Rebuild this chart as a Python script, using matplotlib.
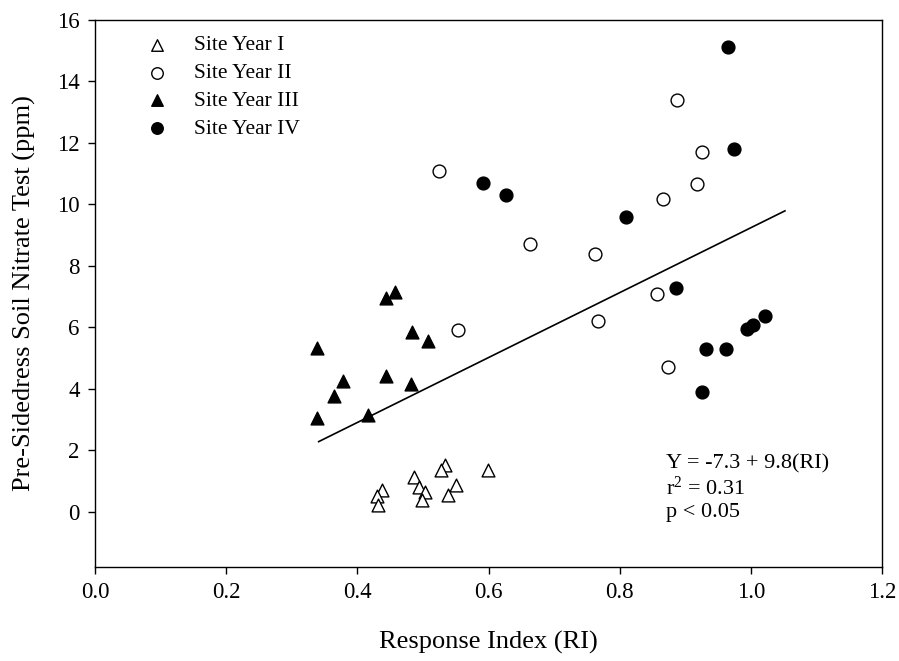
import matplotlib
matplotlib.use('Agg')
import matplotlib.pyplot as plt
import numpy as np

plt.rcParams.update({
    'font.family': ['Liberation Serif', 'DejaVu Serif'],
    'mathtext.fontset': 'custom',
    'mathtext.rm': 'Liberation Serif',
    'mathtext.it': 'Liberation Serif:italic',
    'font.size': 16,
})

# Site Year I (open triangles)
ri_1 = [0.533, 0.528, 0.599, 0.486, 0.551, 0.438, 0.494, 0.430, 0.503, 0.538, 0.499, 0.431]
pn_1 = [1.53, 1.36, 1.37, 1.14, 0.88, 0.69, 0.79, 0.52, 0.63, 0.55, 0.38, 0.23]

# Site Year II (open circles)
ri_2 = [0.888, 0.925, 0.918, 0.866, 0.525, 0.663, 0.763, 0.857, 0.767, 0.554, 0.874]
pn_2 = [13.4, 11.69, 10.68, 10.18, 11.1, 8.70, 8.39, 7.09, 6.20, 5.92, 4.72]

# Site Year III (filled triangles)
ri_3 = [0.458, 0.444, 0.483, 0.508, 0.339, 0.443, 0.378, 0.482, 0.365, 0.338, 0.416]
pn_3 = [7.14, 6.94, 5.84, 5.55, 5.33, 4.43, 4.25, 4.14, 3.75, 3.05, 3.15]

# Site Year IV (filled circles)
ri_4 = [0.965, 0.974, 0.591, 0.626, 0.809, 0.886, 1.021, 1.004, 0.994, 0.931, 0.962, 0.925]
pn_4 = [15.12, 11.79, 10.70, 10.29, 9.58, 7.29, 6.38, 6.08, 5.96, 5.30, 5.30, 3.90]

# regression line as drawn
fit_x = [0.341, 1.052]
fit_y = [2.28, 9.79]

fig = plt.figure(figsize=(8.99, 6.61), dpi=100)
ax = fig.add_axes([0.1057, 0.1422, 0.8754, 0.8275])

ms = 85
ax.scatter(ri_1, pn_1, s=ms, marker='^', facecolor='white', edgecolor='black', linewidth=1.0, label='Site Year I', zorder=3)
ax.scatter(ri_2, pn_2, s=ms, marker='o', facecolor='white', edgecolor='black', linewidth=1.0, label='Site Year II', zorder=3)
ax.scatter(ri_3, pn_3, s=ms, marker='^', facecolor='black', edgecolor='black', linewidth=1.0, label='Site Year III', zorder=3)
ax.scatter(ri_4, pn_4, s=ms, marker='o', facecolor='black', edgecolor='black', linewidth=1.0, label='Site Year IV', zorder=3)
ax.plot(fit_x, fit_y, color='black', lw=1.2, zorder=2)

ax.set_xlim(0, 1.2)
ax.set_ylim(-1.8, 16)
ax.set_xticks(np.arange(0, 1.21, 0.2))
ax.set_xticklabels([f'{v:.1f}' for v in np.arange(0, 1.21, 0.2)])
ax.set_yticks(np.arange(0, 17, 2))
ax.tick_params(direction='out', length=5, width=1, labelsize=16.5, pad=6)
for s in ax.spines.values():
    s.set_linewidth(1.0)

ax.set_xlabel('Response Index (RI)', fontsize=19, labelpad=20)
ax.set_ylabel('Pre-Sidedress Soil Nitrate Test (ppm)', fontsize=19, labelpad=15)

ax.legend(loc='upper left', bbox_to_anchor=(0.065, 0.972), frameon=False, fontsize=15.5,
          borderaxespad=0, borderpad=0, handlelength=1.0, handletextpad=1.2,
          labelspacing=0.36, markerscale=0.9, scatterpoints=1)

ax.text(0.870, 1.55, 'Y = -7.3 + 9.8(RI)', fontsize=16, va='center')
ax.text(0.870, 0.75, r'r$^2$ = 0.31', fontsize=16, va='center')
ax.text(0.870, -0.03, 'p < 0.05', fontsize=16, va='center')

fig.savefig('out.png', dpi=100)
